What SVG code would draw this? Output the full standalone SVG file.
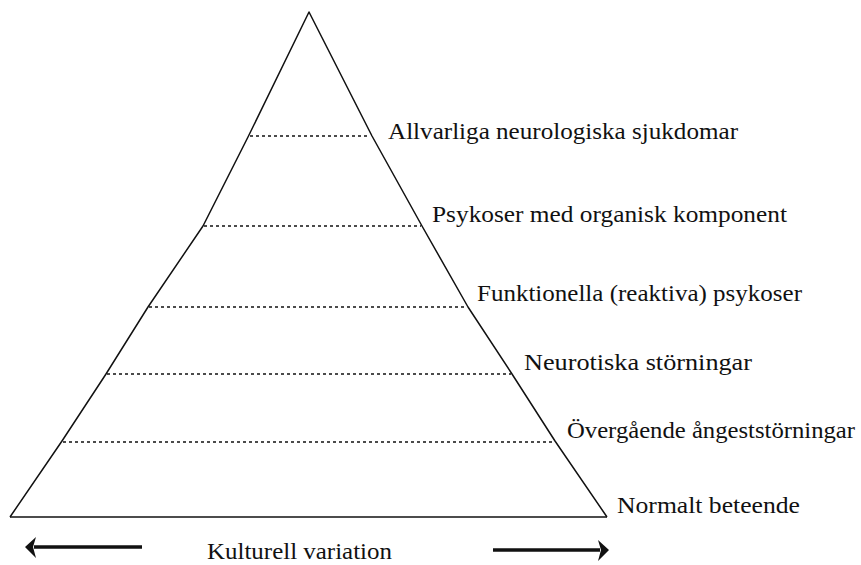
<svg xmlns="http://www.w3.org/2000/svg" width="861" height="565" viewBox="0 0 861 565">
<style>
.edge{fill:none;stroke:#111;stroke-width:1.5;stroke-linejoin:round}
.dash{stroke:#111;stroke-width:1.6;stroke-dasharray:3 3;fill:none}
.lbl{font-family:"Liberation Serif","DejaVu Serif",serif;font-size:23px;fill:#111}
.arr{stroke:#111;stroke-width:3.5;fill:none}
.head{fill:#111}
</style>
<rect width="861" height="565" fill="#fff"/>
<g id="pyramid">
<polyline class="edge" points="10,517 62,441 106,374 148,307 203,226 248,137 309,12 372,136 422,226 468,307 512,374 555,441 607,517"/>
<line class="edge" x1="10" y1="517" x2="607" y2="517" stroke-width="2"/>
</g>
<g id="levels">
<line class="dash" x1="250" y1="136" x2="370" y2="136"/>
<line class="dash" x1="204" y1="226" x2="421" y2="226"/>
<line class="dash" x1="149" y1="307" x2="467" y2="307"/>
<line class="dash" x1="107" y1="374" x2="511" y2="374"/>
<line class="dash" x1="63" y1="442" x2="554" y2="442"/>
</g>
<g id="labels">
<text class="lbl" x="388" y="139" textLength="350" lengthAdjust="spacingAndGlyphs">Allvarliga neurologiska sjukdomar</text>
<text class="lbl" x="432" y="222" textLength="355" lengthAdjust="spacingAndGlyphs">Psykoser med organisk komponent</text>
<text class="lbl" x="477" y="301" textLength="325" lengthAdjust="spacingAndGlyphs">Funktionella (reaktiva) psykoser</text>
<text class="lbl" x="524" y="370" textLength="228" lengthAdjust="spacingAndGlyphs">Neurotiska störningar</text>
<text class="lbl" x="567" y="438" textLength="288" lengthAdjust="spacingAndGlyphs">Övergående ångeststörningar</text>
<text class="lbl" x="617" y="513" textLength="183" lengthAdjust="spacingAndGlyphs">Normalt beteende</text>
<text class="lbl" x="207" y="559" textLength="185" lengthAdjust="spacingAndGlyphs">Kulturell variation</text>
</g>
<g id="connectors">
<line class="arr" x1="34" y1="547" x2="142" y2="547"/>
<path class="head" d="M25,547 L36,537 L33,547 L36,558 Z"/>
<line class="arr" x1="493" y1="550" x2="600" y2="550"/>
<path class="head" d="M609,550 L598,540 L601,550 L598,561 Z"/>
</g>
</svg>
